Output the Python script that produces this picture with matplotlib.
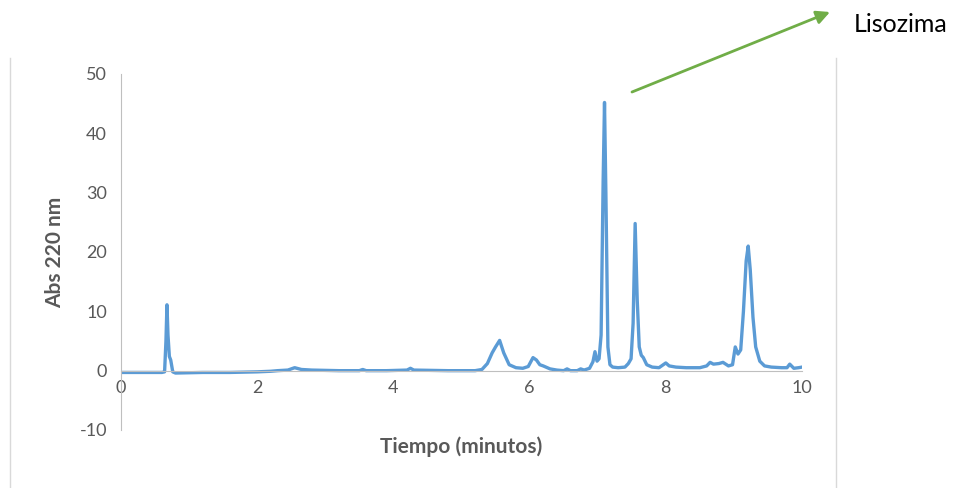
import matplotlib
matplotlib.use("Agg")
import matplotlib.pyplot as plt
from matplotlib.lines import Line2D

plt.rcParams["axes.unicode_minus"] = False

# chromatogram (time in min, absorbance)
tiempo = [0.0, 0.3, 0.6, 0.64, 0.66, 0.675, 0.69, 0.71, 0.73, 0.76, 0.8, 1.2, 1.6, 2.0, 2.2,
          2.3, 2.45, 2.55, 2.65, 2.8, 3.2, 3.5, 3.55, 3.6, 3.9, 4.2, 4.25, 4.3, 4.8, 5.2,
          5.3, 5.38, 5.45, 5.5, 5.56, 5.62, 5.7, 5.8, 5.9, 5.98, 6.05, 6.1, 6.15, 6.2,
          6.3, 6.4, 6.5, 6.55, 6.6, 6.7, 6.75, 6.8, 6.88, 6.93, 6.96, 6.99, 7.02, 7.05,
          7.08, 7.1, 7.12, 7.15, 7.18, 7.22, 7.3, 7.4, 7.45, 7.49, 7.52, 7.55, 7.58,
          7.61, 7.64, 7.67, 7.72, 7.8, 7.9, 7.95, 8.0, 8.05, 8.15, 8.3, 8.5, 8.6, 8.65,
          8.7, 8.78, 8.84, 8.92, 8.98, 9.02, 9.06, 9.1, 9.14, 9.18, 9.21, 9.24, 9.28,
          9.32, 9.38, 9.45, 9.55, 9.7, 9.78, 9.82, 9.88, 9.95, 10.0]
abs220 = [-0.3, -0.3, -0.3, -0.2, 5.0, 11.1, 6.0, 2.4, 1.8, -0.2, -0.4, -0.3, -0.3, -0.2, -0.1,
          0.0, 0.1, 0.5, 0.2, 0.1, 0.0, 0.0, 0.2, 0.0, 0.0, 0.1, 0.4, 0.1, 0.0, 0.0,
          0.2, 1.2, 3.0, 4.0, 5.1, 3.0, 1.0, 0.5, 0.4, 0.7, 2.2, 1.8, 1.0, 0.8,
          0.3, 0.1, 0.0, 0.3, 0.0, 0.0, 0.3, 0.1, 0.4, 1.5, 3.2, 1.6, 2.0, 6.0,
          32.0, 45.2, 30.0, 4.0, 1.0, 0.6, 0.5, 0.6, 1.2, 2.0, 8.0, 24.8, 12.0,
          4.0, 2.6, 2.2, 1.0, 0.6, 0.5, 0.9, 1.3, 0.8, 0.6, 0.5, 0.5, 0.8, 1.4,
          1.1, 1.2, 1.4, 0.8, 1.0, 4.0, 2.8, 3.5, 10.0, 18.5, 21.0, 17.0, 9.0,
          4.0, 1.6, 0.8, 0.6, 0.5, 0.5, 1.1, 0.4, 0.5, 0.6]

xticks = [0, 2, 4, 6, 8, 10]
yticks = [-10, 0, 10, 20, 30, 40, 50]

W, H = 961, 488
fig = plt.figure(figsize=(W / 100, H / 100), dpi=100)
ax = fig.add_axes([121 / W, 1 - 430 / H, (802 - 121) / W, (430 - 74) / H])

ax.plot(tiempo, abs220, color="#5B9BD5", linewidth=2.4, solid_joinstyle="round")

ax.set_xlim(0, 10)
ax.set_ylim(-10, 50)
ax.set_xticks(xticks)
ax.set_yticks(yticks)

grey = "#595959"
fam = ["Lato", "DejaVu Sans"]
for s in ["top", "right"]:
    ax.spines[s].set_visible(False)
ax.spines["left"].set_color("#BFBFBF")
ax.spines["bottom"].set_color("#BFBFBF")
ax.spines["bottom"].set_position(("data", 0))
ax.tick_params(length=0, labelsize=13, colors=grey, pad=7)
ax.tick_params(axis="y", pad=10)
for lab in ax.get_xticklabels() + ax.get_yticklabels():
    lab.set_family(fam)

fig.text(55 / W, 1 - 252 / H, "Abs 220 nm", ha="center", va="center", rotation=90,
         fontsize=15, fontweight="bold", color=grey, family=fam)
fig.text(461 / W, 1 - 447 / H, "Tiempo (minutos)", ha="center", va="center",
         fontsize=15, fontweight="bold", color=grey, family=fam)

# chart area frame (only the sides are visible)
fig.add_artist(Line2D([10 / W, 10 / W], [0, 1 - 58 / H], color="#D9D9D9", lw=1))
fig.add_artist(Line2D([836 / W, 836 / W], [0, 1 - 58 / H], color="#D9D9D9", lw=1))

# arrow pointing to the label
ax.annotate("", xy=(830, H - 12), xycoords="figure pixels",
            xytext=(632, H - 92), textcoords="figure pixels",
            arrowprops=dict(arrowstyle="-|>,head_length=0.8,head_width=0.4",
                            color="#70AD47", lw=2, shrinkA=0, shrinkB=0))
fig.text(854 / W, 1 - 25 / H, "Lisozima", ha="left", va="center",
         fontsize=18, color="black", family=fam)

fig.savefig("out.png", dpi=100)
